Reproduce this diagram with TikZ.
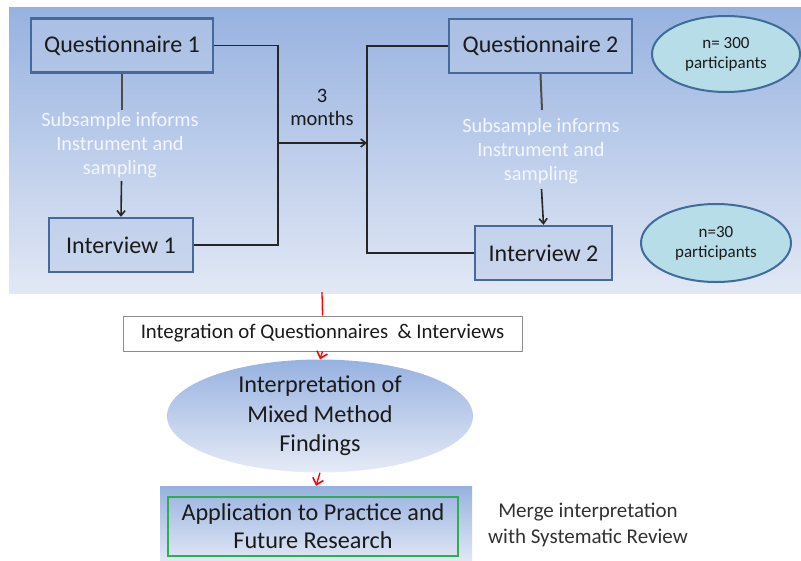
\documentclass[tikz,border=0pt]{standalone}
\usepackage{fontspec}
\setmainfont{Carlito}
\usetikzlibrary{shapes.geometric,arrows.meta,shadings}

\definecolor{paneltop}{HTML}{97B2E0}
\definecolor{panelbot}{HTML}{E2E8F5}
\definecolor{boxedge}{HTML}{46689A}
\definecolor{ovalfill}{HTML}{B7DDE8}
\definecolor{ovaledge}{HTML}{3F6C99}
\definecolor{inkdark}{HTML}{1A1A1A}
\definecolor{paletext}{HTML}{F3F6FC}
\definecolor{greenedge}{HTML}{2EAF4F}

\tikzset{
  phasebox/.style={draw=boxedge, line width=2.4pt, fill=paneltop!55!panelbot,
    fill opacity=0.55, text opacity=1, text=inkdark, font=\fontsize{24}{28}\selectfont,
    inner sep=0pt},
  countoval/.style={ellipse, draw=ovaledge, line width=2pt, fill=ovalfill,
    text=inkdark, align=center, font=\fontsize{17}{20}\selectfont, inner sep=0pt},
  notetext/.style={text=paletext, align=center, font=\fontsize{20.3}{24}\selectfont,
    inner sep=0pt},
  link/.style={draw=black!85, line width=1.6pt},
  flow/.style={link, -{Straight Barb[length=5pt,width=8pt]}},
  redflow/.style={draw=red, line width=1.3pt, -{Straight Barb[length=6pt,width=11pt,line width=1.6pt]}},
}

\begin{document}
\begin{tikzpicture}[x=1pt,y=-1pt]
\useasboundingbox (0,0) rectangle (801,560);

% shaded data-collection panel
\shade[top color=paneltop, bottom color=panelbot] (9,7) rectangle (801,293);

% collection phases
\node[phasebox, minimum width=182pt, minimum height=54pt] (q1) at (122,45.5) {Questionnaire 1};
\node[phasebox, minimum width=144pt, minimum height=54pt] (i1) at (121,245) {Interview 1};
\node[phasebox, minimum width=183pt, minimum height=54pt] (q2) at (540.5,46) {Questionnaire 2};
\node[phasebox, minimum width=137pt, minimum height=54pt] (i2) at (543.5,253) {Interview 2};

% sample sizes
\node[countoval, minimum width=148pt, minimum height=76pt] (n300) at (726,54) {n= 300\\participants};
\node[countoval, minimum width=150pt, minimum height=78pt] (n30) at (716,243) {n=30\\participants};

% subsample notes
\node[notetext] (sub1) at (120,145) {Subsample informs\\Instrument and\\sampling};
\node[notetext] (sub2) at (541,151) {Subsample informs\\Instrument and\\sampling};
\coordinate (s1top) at (122,110);
\coordinate (s1bot) at (121.5,181);
\coordinate (s2top) at (542,110);
\coordinate (s2bot) at (541.5,189);

\draw[link, draw=black!70, line width=2pt] (q1.south) -- (s1top);
\draw[flow] (s1bot) -- (i1.north);
\draw[link, draw=black!70, line width=2pt] (q2.south) -- (s2top);
\draw[flow] (s2bot) -- (i2.north);

% three-month gap between the rounds
\coordinate (j1) at (278,143);
\coordinate (j2) at (367,143);
\draw[link] (q1.east) -| (j1);
\draw[link] (i1.east) -| (j1);
\draw[flow] (j1) -- (j2);
\draw[link] (q2.west) -| (j2);
\draw[link] (i2.west) -| (j2);
\node[text=inkdark, align=center, font=\fontsize{20.5}{23}\selectfont, inner sep=0pt] (gap) at (322,107) {3\\months};

% integration and interpretation
\node[draw=black!45, line width=0.8pt, fill=white, minimum width=399pt, minimum height=35pt,
  inner sep=0pt, text=inkdark, font=\fontsize{20.8}{24}\selectfont] (integ) at (322.5,333.5)
  {Integration of Questionnaires \ \& Interviews};
\node[ellipse, top color=paneltop, bottom color=panelbot!90!white, minimum width=306pt,
  minimum height=94pt, inner sep=0pt, align=center, text=inkdark,
  font=\fontsize{24.2}{29.5}\selectfont] (interp) at (320,416)
  {Interpretation of\\Mixed Method\\Findings};

% application
\node[rectangle, top color=paneltop, bottom color=panelbot, minimum width=312pt,
  minimum height=76pt, inner sep=0pt] (appbg) at (316,524) {};
\node[draw=greenedge, line width=2pt, minimum width=290pt, minimum height=59pt,
  inner sep=0pt, align=center, text=inkdark, font=\fontsize{24.2}{28}\selectfont] (app) at (313,526.5)
  {Application to Practice and\\Future Research};
\node[align=center, text=inkdark!90, font=\fontsize{21}{26}\selectfont, inner sep=0pt] (merge) at (588,525)
  {Merge interpretation\\with Systematic Review};

\coordinate (redtop) at (322,292);
\draw[draw=red, line width=1.3pt] (redtop) -- (integ.north);
\draw[redflow] (integ.south) -- (interp.north);
\draw[redflow] (interp.south) -- (appbg.north);
\end{tikzpicture}
\end{document}
